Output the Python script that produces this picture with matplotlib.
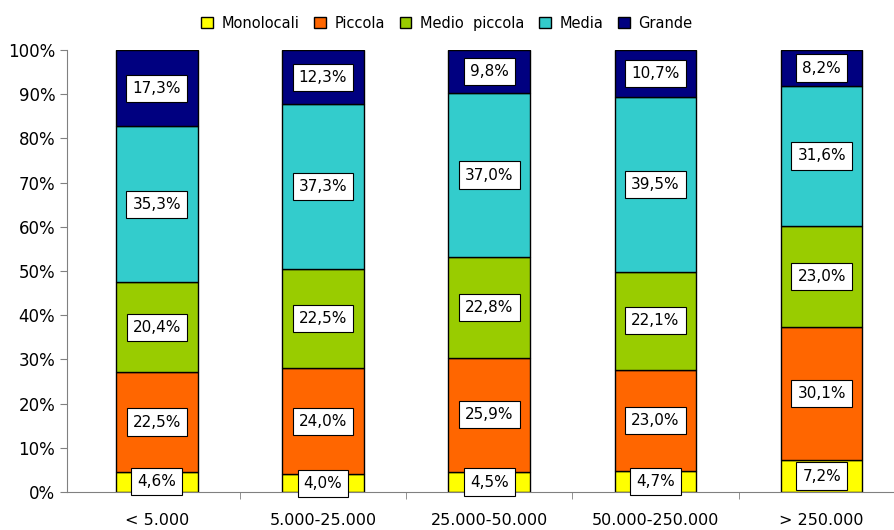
import matplotlib.pyplot as plt
import numpy as np

# Data
categories = ["< 5.000", "5.000-25.000", "25.000-50.000", "50.000-250.000", "> 250.000"]
series_names = ["Monolocali", "Piccola", "Medio  piccola", "Media", "Grande"]
monolocali = [4.6, 4.0, 4.5, 4.7, 7.2]
piccola = [22.5, 24.0, 25.9, 23.0, 30.1]
medio_piccola = [20.4, 22.5, 22.8, 22.1, 23.0]
media = [35.3, 37.3, 37.0, 39.5, 31.6]
grande = [17.3, 12.3, 9.8, 10.7, 8.2]
colors = ["#FFFF00", "#FF6600", "#99CC00", "#33CCCC", "#000080"]

plt.rcParams['font.family'] = ['DejaVu Sans']

values = np.array([monolocali, piccola, medio_piccola, media, grande])
# 100% stacked: normalise each column
heights = values / values.sum(axis=0) * 100

fig = plt.figure(figsize=(8.94, 5.30), dpi=100)
ax = fig.add_axes([0.075, 0.0717, 0.937, 0.834])

x = np.arange(len(categories))
bottom = np.zeros(len(categories))
for i in range(len(series_names)):
    ax.bar(x, heights[i], 0.49, bottom=bottom, color=colors[i],
           edgecolor="black", linewidth=1.0, label=series_names[i], zorder=2)
    for j in range(len(categories)):
        label = ("%.1f%%" % values[i, j]).replace(".", ",")
        ax.text(x[j], bottom[j] + heights[i, j] / 2, label, ha="center", va="center",
                fontsize=11, zorder=3,
                bbox=dict(boxstyle="square,pad=0.4", facecolor="white",
                          edgecolor="black", linewidth=0.8))
    bottom += heights[i]

ax.set_xlim(-0.54, 4.5)
ax.set_ylim(0, 100)
ax.set_yticks(np.arange(0, 101, 10))
ax.set_yticklabels(["%d%%" % v for v in range(0, 101, 10)], fontsize=12)
ax.set_xticks(x)
ax.set_xticklabels(categories, fontsize=11.5)
ax.tick_params(axis="x", length=0, pad=15)
ax.set_xticks(np.arange(0.5, 4.6, 1), minor=True)
ax.tick_params(axis="x", which="minor", length=5, color="#808080")
ax.tick_params(axis="y", length=5, color="#808080")

for s in ["top", "right"]:
    ax.spines[s].set_visible(False)
ax.spines["left"].set_color("#808080")
ax.spines["bottom"].set_color("#808080")

fig.legend(loc="upper center", bbox_to_anchor=(0.5, 0.995), ncol=5, frameon=False,
           fontsize=10.5, handlelength=0.8, handleheight=0.8, handletextpad=0.6,
           columnspacing=1.0)

fig.savefig("out.png", dpi=100)
